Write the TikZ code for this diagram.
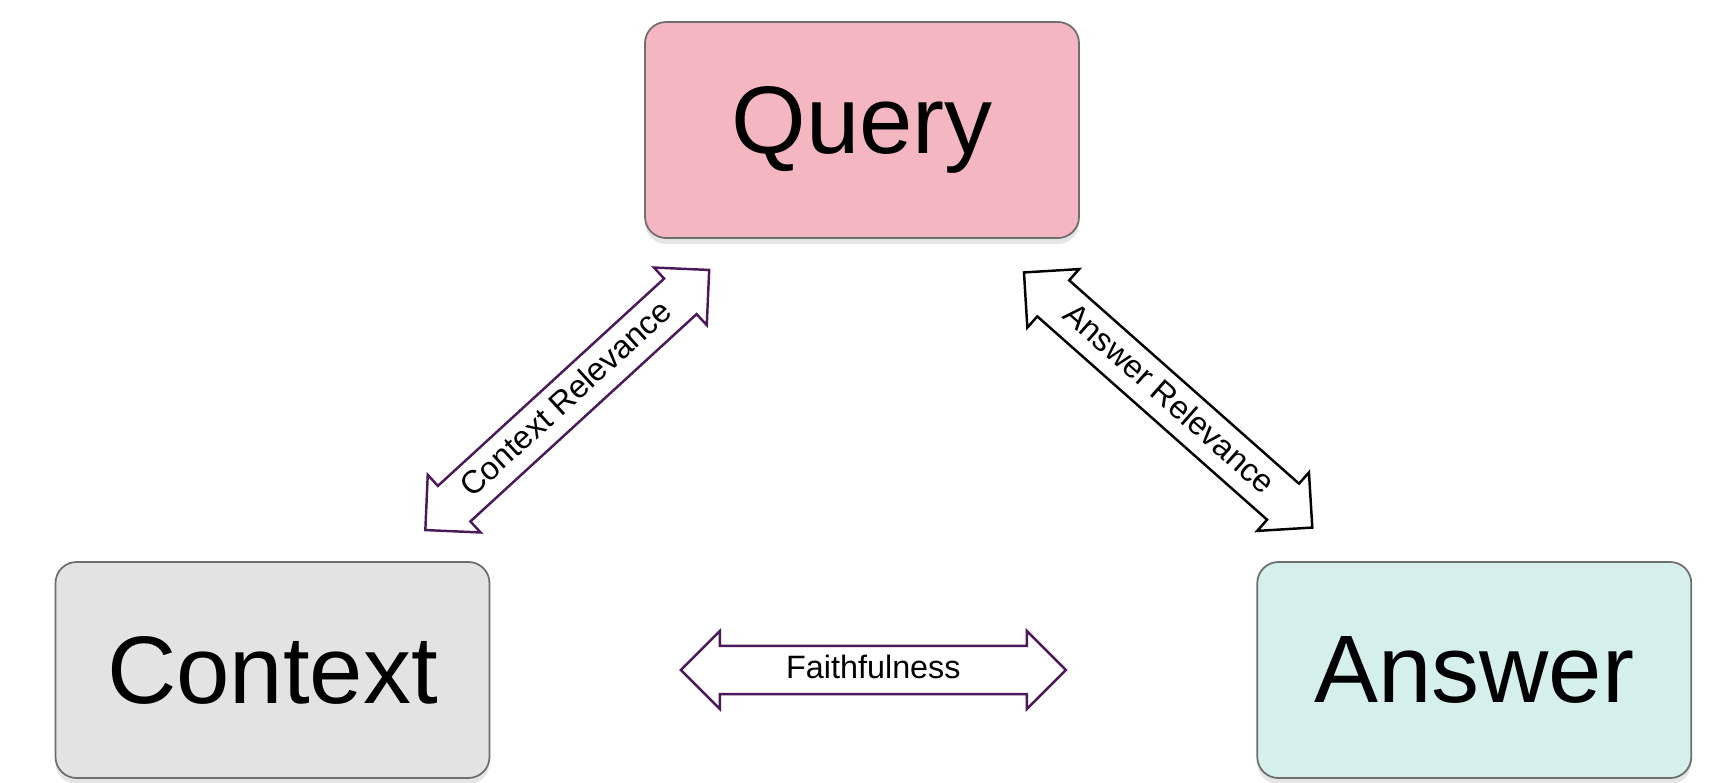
\documentclass[tikz,border=0pt]{standalone}
\usepackage{fontspec}
\setmainfont{Liberation Sans}
\usetikzlibrary{arrows.meta,positioning,shapes.arrows,shadows,calc}
\definecolor{querypink}{RGB}{244,183,193}
\definecolor{contextgrey}{RGB}{227,227,227}
\definecolor{answermint}{RGB}{213,239,234}
\definecolor{boxedge}{RGB}{110,110,110}
\definecolor{plumdark}{RGB}{75,25,90}
\tikzset{
  block/.style={draw=boxedge,line width=0.5pt,rounded corners=6pt,
    minimum width=4.34cm,minimum height=2.16cm,align=center,
    font=\fontsize{27.3}{32}\selectfont,text=black,
    drop shadow={shadow xshift=0pt,shadow yshift=-0.6mm,opacity=0.2}},
  metric/.style={shape=double arrow,draw=plumdark,fill=white,line width=0.7pt,
    double arrow head extend=0.15cm,double arrow tip angle=90,
    minimum height=3.85cm,inner xsep=2pt,inner ysep=2pt,
    text height=7pt,text depth=2pt,font=\fontsize{9.2}{11}\selectfont,text=black}
}

\begin{document}
\begin{tikzpicture}
  \path[fill=white,use as bounding box] (0,0) rectangle (17.3,-7.82);

  \node[block,fill=querypink] (query) at (8.62,-1.30) {Query};
  \node[block,fill=contextgrey] (context) at (2.725,-6.70) {Context};
  \node[block,fill=answermint,right=7.66cm of context] (answer) {Answer};

  \node[metric,rotate=42.5] (ctxrel) at ($(context)!0.5!(query)$) {Context Relevance};
  \node[metric,draw=black,rotate=-41.5] (ansrel) at ($(answer)!0.5!(query)$) {Answer Relevance};
  \node[metric] (faith) at ($(context)!0.5!(answer)$) {Faithfulness};
\end{tikzpicture}
\end{document}
